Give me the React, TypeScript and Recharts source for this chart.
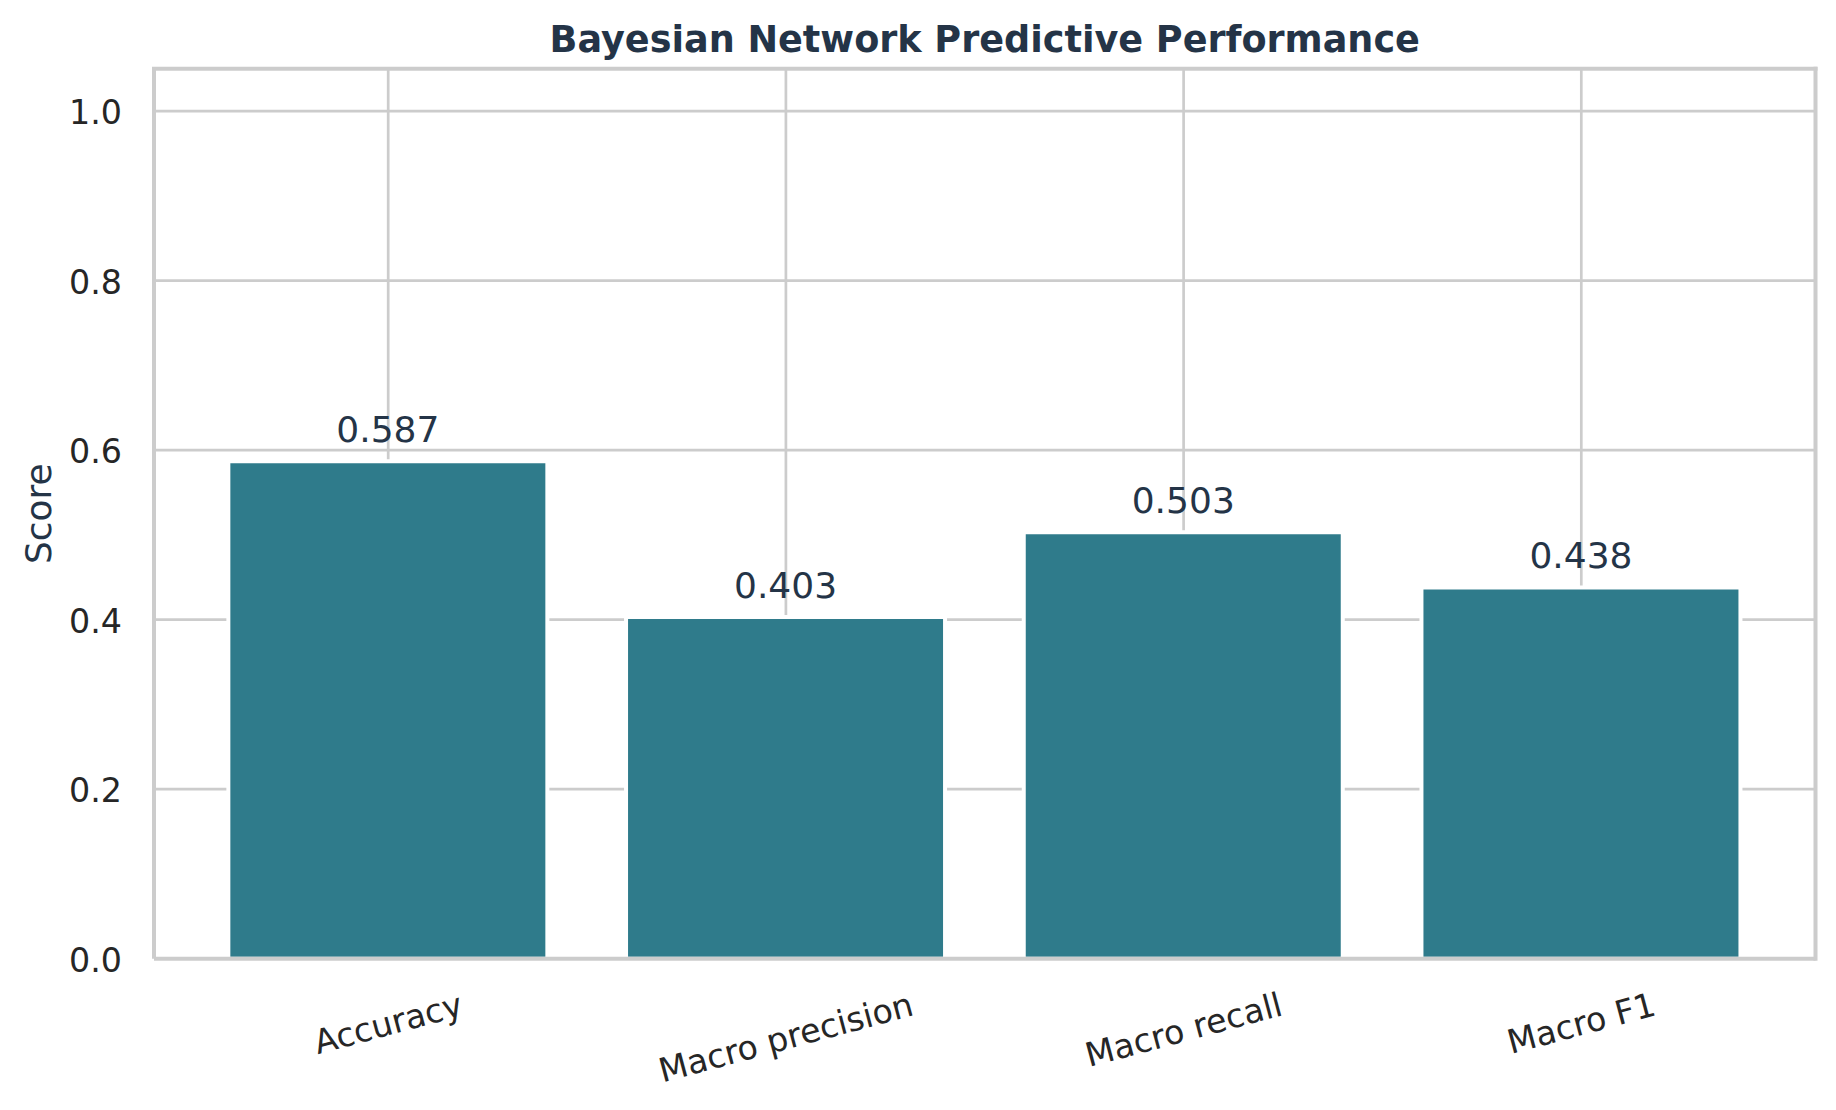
import React from 'react';
import { BarChart, Bar, XAxis, YAxis, CartesianGrid, LabelList } from 'recharts';

const categories = ['Accuracy', 'Macro precision', 'Macro recall', 'Macro F1'];
const scores = [0.587, 0.403, 0.503, 0.438];
const yTicks = [0, 0.2, 0.4, 0.6, 0.8, 1.0];
const chartTitle = 'Bayesian Network Predictive Performance';
const yLabel = 'Score';

const data = categories.map((c, i) => ({ name: c, score: scores[i] }));

const W = 1828;
const H = 1102;
const MARGIN = { top: 60.7, right: 20.5, bottom: 51.3, left: 0 };
const Y_AXIS_W = 146;
const X_AXIS_H = 100;
const FONT = '"DejaVu Sans", Verdana, sans-serif';
const TICK_FS = 33.3;
const GRID = '#cccccc';
const NAVY = '#243447';
const TICK_COLOR = '#262626';
const BAR_COLOR = '#2f7b8b';

let ctx: CanvasRenderingContext2D | null = null;
function textWidth(s: string, size: number): number {
  if (!ctx) ctx = document.createElement('canvas').getContext('2d');
  if (!ctx) return s.length * size * 0.6;
  ctx.font = `${size}px "DejaVu Sans"`;
  return ctx.measureText(s).width;
}

const XTick = (props: any) => {
  const { x, y, payload } = props;
  const label = String(payload.value);
  const w = textWidth(label, TICK_FS);
  const a = (15 * Math.PI) / 180;
  const cy = y + 45 + (w * Math.sin(a)) / 2;
  return (
    <text
      x={x}
      y={cy}
      textAnchor="middle"
      dominantBaseline="central"
      transform={`rotate(-15 ${x} ${cy})`}
      fontSize={TICK_FS}
      fontFamily={FONT}
      fill={TICK_COLOR}
    >
      {label}
    </text>
  );
};

const YTick = (props: any) => {
  const { x, y, payload } = props;
  return (
    <text
      x={x}
      y={y + TICK_FS * 0.355 + 1.5}
      textAnchor="end"
      fontSize={TICK_FS}
      fontFamily={FONT}
      fill={TICK_COLOR}
    >
      {Number(payload.value).toFixed(1)}
    </text>
  );
};

const ValueLabel = (props: any) => {
  const { x, y, width, value } = props;
  return (
    <text
      x={Number(x) + Number(width) / 2}
      y={Number(y) - 19}
      textAnchor="middle"
      fontSize={36}
      fontFamily={FONT}
      fill={NAVY}
    >
      {Number(value).toFixed(3)}
    </text>
  );
};

export default function App() {
  const plotLeft = MARGIN.left + Y_AXIS_W;
  const plotRight = W - MARGIN.right;
  const plotTop = MARGIN.top;
  const plotBottom = H - MARGIN.bottom - X_AXIS_H;
  return (
    <div style={{ position: 'relative', width: W, height: H }}>
      <BarChart width={W} height={H} data={data} margin={MARGIN} barSize={319}>
        <CartesianGrid stroke={GRID} strokeWidth={2.7} syncWithTicks />
        <Bar
          dataKey="score"
          fill={BAR_COLOR}
          stroke="#ffffff"
          strokeWidth={4}
          isAnimationActive={false}
        >
          <LabelList dataKey="score" content={ValueLabel} />
        </Bar>
        <XAxis
          dataKey="name"
          type="category"
          height={X_AXIS_H}
          padding={{ left: 35.35, right: 35.35 }}
          tickLine={false}
          tickSize={0}
          tickMargin={0}
          interval={0}
          tick={XTick}
          axisLine={{ stroke: GRID, strokeWidth: 4 }}
        />
        <YAxis
          width={Y_AXIS_W}
          domain={[0, 1.05]}
          ticks={yTicks}
          type="number"
          allowDataOverflow
          tickLine={false}
          tickSize={0}
          tickMargin={32}
          tick={YTick}
          axisLine={{ stroke: GRID, strokeWidth: 4 }}
        />
      </BarChart>
      <svg
        width={W}
        height={H}
        style={{ position: 'absolute', left: 0, top: 0, pointerEvents: 'none' }}
      >
        <line x1={plotLeft - 2} x2={plotRight + 2} y1={plotTop} y2={plotTop} stroke={GRID} strokeWidth={4} />
        <line x1={plotRight} x2={plotRight} y1={plotTop - 2} y2={plotBottom + 2} stroke={GRID} strokeWidth={4} />
        <text
          x={(plotLeft + plotRight) / 2}
          y={44}
          textAnchor="middle"
          fontSize={36.6}
          fontWeight="bold"
          fontFamily={FONT}
          fill={NAVY}
        >
          {chartTitle}
        </text>
        <text
          x={31}
          y={(plotTop + plotBottom) / 2}
          textAnchor="middle"
          dominantBaseline="central"
          transform={`rotate(-90 31 ${(plotTop + plotBottom) / 2})`}
          fontSize={36}
          fontFamily={FONT}
          fill={NAVY}
        >
          {yLabel}
        </text>
      </svg>
    </div>
  );
}
